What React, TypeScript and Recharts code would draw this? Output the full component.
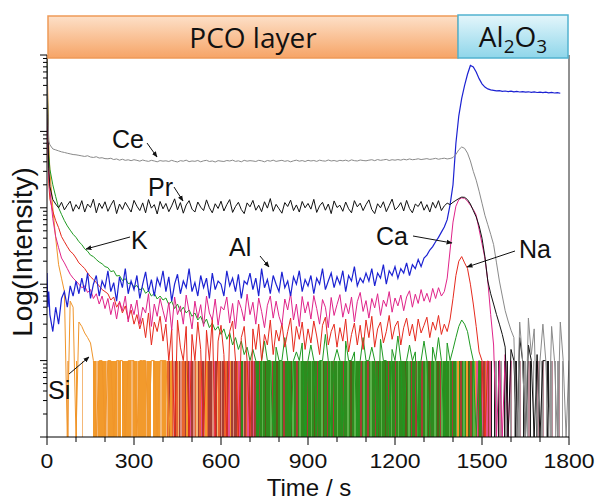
import React from 'react';
import { ComposedChart, Line, Area, XAxis, YAxis, ReferenceLine } from 'recharts';

// ---------- time grid ----------
const HEAD_T = [0, 3, 6];
const GRID_T = Array.from({ length: 180 }, (_, i) => 10 * (i + 1));
const TIME = [...HEAD_T, ...GRID_T];

// ---------- series values (counts), rows = 100 s ----------
const CE = [
  9000, 1600, 750,
  667, 590, 573, 556, 540, 530, 518, 508, 498, 494,
  486, 478, 470, 480, 462, 456, 466, 448, 452, 440,
  438, 445, 428, 436, 420, 432, 418, 425, 414, 426,
  418, 408, 422, 412, 405, 418, 410, 400, 415, 408,
  412, 404, 418, 406, 398, 414, 408, 420, 402, 410,
  406, 416, 400, 412, 418, 404, 410, 398, 414, 408,
  404, 416, 410, 420, 405, 412, 400, 418, 408, 414,
  410, 404, 418, 412, 400, 416, 408, 420, 405, 412,
  418, 406, 414, 400, 412, 420, 408, 415, 404, 418,
  410, 416, 405, 420, 412, 408, 422, 410, 416, 406,
  418, 412, 420, 408, 424, 414, 410, 422, 416, 412,
  420, 426, 414, 428, 418, 424, 430, 416, 426, 420,
  428, 420, 432, 424, 436, 426, 430, 438, 428, 434,
  440, 430, 436, 444, 432, 440, 446, 436, 442, 455,
  500, 575, 625, 600, 520, 410, 300, 230, 165, 115,
  80, 60, 45, 33, 19, 11, 7, 4.5, 3.3, 2.5,
  2, 0.1, 3.2, 1, 0.1, 3.6, 1.2, 2.6, 0.1, 1,
  3, 1, 0.1, 2.8, 1, 0.1, 3.2, 1, 0.1, 1,
];

const PR = [
  7000, 1200, 330,
  190, 128, 112, 100, 118, 94, 108, 122, 90, 110,
  96, 124, 88, 112, 101, 130, 86, 115, 98, 120,
  90, 108, 126, 84, 112, 95, 118, 102, 88, 125,
  105, 92, 116, 86, 128, 99, 110, 83, 121, 97,
  114, 89, 106, 131, 94, 117, 85, 109, 124, 96,
  88, 119, 102, 92, 127, 100, 86, 113, 98, 122,
  91, 110, 128, 87, 104, 118, 95, 84, 116, 103,
  125, 93, 108, 89, 120, 99, 132, 90, 111, 97,
  85, 117, 104, 126, 92, 109, 88, 121, 100, 114,
  96, 129, 87, 106, 118, 93, 112, 84, 123, 101,
  108, 90, 119, 97, 86, 124, 103, 115, 92, 110,
  127, 95, 84, 113, 100, 120, 89, 107, 130, 94,
  102, 117, 91, 125, 98, 86, 112, 104, 121, 93,
  110, 88, 118, 99, 124, 92, 106, 115, 110, 118,
  125, 132, 138, 137, 128, 112, 92, 76, 58, 40,
  23, 11, 7.5, 5.5, 4, 3, 2.2, 1.5, 0.1, 1.4,
  1, 0.1, 2, 1, 0.1, 1.6, 1, 0.1, 1.2, 0.1,
  1, 1,
];

const AL = [
  14, 5, 8,
  4, 2.4, 5, 3, 6.5, 8, 5, 9.5, 7, 11,
  7.5, 12, 8, 14, 6.5, 10, 13, 7, 11, 9,
  15, 8, 10.5, 6, 12.5, 9, 16, 7.5, 11, 8.5,
  13, 6.5, 10, 14.5, 8, 11.5, 7, 12, 9.5, 15,
  8, 12.5, 6, 10, 13.5, 7.5, 11, 9, 16, 8,
  10.5, 7, 13, 9, 12, 6.5, 14, 8.5, 11, 10,
  7, 15, 9.5, 12, 8, 13.5, 6.5, 11, 10, 14,
  8.5, 12, 7, 16, 9, 11.5, 7.5, 13, 10, 8,
  14.5, 9, 11, 7, 12.5, 10, 15, 8, 11.5, 9.5,
  13, 7.5, 12, 10, 16, 8.5, 11, 14, 9, 12.5,
  10, 15, 8, 13, 11, 17, 9.5, 12, 10.5, 14,
  11, 16, 9.5, 14, 12, 18, 10, 15, 13, 17,
  12, 16, 14, 19, 13, 18, 16, 21, 17, 22,
  24, 28, 31, 36, 41, 48, 56, 70, 110, 200,
  700, 1600, 2700, 4000, 5600, 7300, 7000, 6000, 4900, 4200,
  3800, 3600, 3500, 3450, 3400, 3420, 3350, 3380, 3320, 3360,
  3300, 3340, 3280, 3320, 3260, 3300, 3240, 3290, 3230, 3270,
  3220, 3260, 3200, 3240, 3180, 3220, 3160,
];

const CA = [
  5500, 900, 280,
  170, 72, 42, 30, 22, 19, 16, 13.5, 12, 11,
  10, 9, 9.5, 7.8, 8.5, 6.5, 7.5, 5.5, 7, 4.8,
  6.5, 4, 5.8, 3.5, 6, 4.5, 7, 3.2, 5.5, 4,
  6.2, 3, 5, 4.2, 7.5, 2.8, 5.5, 3.8, 6.5, 4.5,
  3.2, 5.8, 2.5, 6.8, 4, 5.2, 3, 7.2, 4.4, 2.6,
  6, 3.6, 5.4, 2.8, 7, 4.2, 3.4, 6.4, 2.9, 5.1,
  4.6, 6.8, 3.1, 5.6, 2.6, 6.2, 4.8, 3.3, 7.4, 4,
  5.8, 3, 6.6, 4.4, 2.7, 5.3, 7, 3.6, 6, 3.8,
  2.9, 6.4, 4.6, 7.6, 3.4, 5.5, 2.8, 6.9, 4.2, 5.9,
  3.5, 7.1, 4.8, 3, 6.3, 5, 2.7, 6.7, 3.9, 5.4,
  7.3, 3.7, 5.6, 4.1, 6.8, 3.2, 5.9, 7.8, 4.4, 6.1,
  3.6, 6.5, 4.9, 7.5, 3.9, 6.2, 5.1, 8, 4.3, 6.6,
  5.2, 7.2, 4.5, 6.8, 8.2, 5, 7.4, 5.6, 8.5, 6,
  7.6, 5.8, 8.8, 6.5, 9, 7, 8, 12, 28, 65,
  105, 128, 135, 133, 122, 108, 95, 80, 52, 34,
  22, 11, 4, 1.6, 0.1, 1, 0.1, 1.2, 0.1, 1,
];

const NA = [
  4200, 650, 210,
  130, 90, 68, 55, 42, 36, 31, 27, 25, 22,
  19, 17.5, 16, 14, 12.5, 11.5, 10.5, 9.5, 8.5, 8,
  7.5, 6.2, 6.8, 5, 5.8, 4.2, 5.2, 3.5, 4.6, 3,
  4, 2.6, 3.6, 2, 4.2, 1.6, 3.2, 2.4, 3.8, 1.8,
  3, 1, 2.6, 0.1, 3.4, 1.5, 1, 2.8, 0.1, 2.2,
  1, 3.2, 1.4, 0.1, 2.5, 1, 3.6, 0.1, 1.8, 2.9,
  1.2, 0.1, 2.4, 3.3, 1, 0.1, 2, 2.8, 1, 0.1,
  2.6, 1.4, 3, 1, 2.2, 1.6, 3.4, 1.2, 2.5, 1.8,
  3.1, 1.5, 2.4, 3.6, 1.3, 2.8, 1.9, 3.2, 1.4, 2.6,
  1.7, 3.3, 2.1, 1.2, 2.9, 3.7, 1.6, 2.4, 3, 1.5,
  2.7, 1.8, 3.5, 1.3, 2.2, 3.1, 1.6, 2.9, 1.4, 3.4,
  2, 3.8, 1.5, 2.6, 3.2, 1.7, 2.4, 3.9, 1.9, 2.8,
  3.3, 1.6, 2.7, 3.6, 2.1, 3, 1.8, 3.5, 2.3, 2.9,
  3.7, 2, 3.2, 2.5, 3.9, 2.2, 3, 2.4, 3.5, 6.5,
  13, 20, 23, 19, 16, 10, 5.5, 2.8, 1.3, 1,
  0.1, 1,
];

const K = [
  8000, 1500, 500,
  320, 200, 140, 100, 82, 68, 58, 51, 45, 41,
  36, 33, 29, 27, 24, 23, 21, 19.5, 18.5, 17,
  16.5, 14.6, 15, 12.8, 13, 11.2, 11.8, 10.2, 10.4, 9.2,
  9.6, 8.4, 9, 7.6, 8.2, 7, 7.6, 6.4, 7, 6.2,
  6.6, 5.4, 6, 4.8, 5.5, 4.4, 5, 4.2, 4.6, 3.8,
  4.2, 3.4, 3.8, 3, 3.5, 2.7, 3.1, 2.5, 2.8, 2.2,
  2.6, 1.9, 2.3, 1.6, 2, 1.4, 1.8, 1.2, 1.5, 1,
  1.4, 1, 0.1, 1, 1.8, 1, 1, 0.1, 1.5, 1,
  1, 2, 1, 0.1, 1, 1.3, 1, 1.7, 0.1, 1,
  1.6, 1, 0.1, 1, 1, 2.2, 1, 0.1, 1, 1.4,
  1, 0.1, 1.8, 1, 1, 1.3, 0.1, 1, 2, 1,
  1, 1.5, 1, 0.1, 1.9, 1, 1, 0.1, 1.4, 1,
  2.1, 1, 0.1, 1, 1.6, 1, 1.3, 0.1, 1, 1.8,
  1, 0.1, 1.5, 1, 2, 1, 0.1, 1.7, 1, 1.4,
  2, 2.8, 3.4, 3, 2.4, 1.5, 1, 0.1, 1, 0.1,
];

const SI = [
  10000, 3000, 700,
  300, 100, 40, 18, 12, 8, 0.1, 6, 5, 0.1,
  3.2, 2.8, 2.3, 2, 1.7, 1, 0.1, 1, 1, 0.1,
  1, 1, 0.1, 1, 1, 1, 0.1, 1, 1, 1,
  0.1, 1, 1, 1, 0.1, 1, 1, 0.1, 1, 1,
  1, 0.1, 1,
];

// ---------- floor (count ~1) stripes: dominant species per 5 s bin ----------
const FLOOR_BIN = 5;
const FLOOR = [
  'WWWWWWWWWWWWWWLWWWWW',
  'OWWWLWWWWWWWOOLOOOOO',
  'OLOOOOOOLOOWOOOOOOLO',
  'OOLOOOOOLOOOWOOOOOLO',
  'OOLRBORSBRLBSRRBOBPB',
  'BSRLBRPBSORBBBSPBLRB',
  'SBRRBPOBSBBRPBGSBRPB',
  'SBPBGGBGgGDGGGgBGGDG',
  'GgGBGGGGDgGGBGgGGGGB',
  'GGgGDGBGGgDGGBGgGBGG',
  'gGGGBGGgGDGGgGGGBGgG',
  'GBGgGGBGDGgGGDGBGgGG',
  'BGgGGGGDGgGBGGBgGGBG',
  'GgGDBGGgGDGBgGGGGgGB',
  'GGgOGBGgGODGBGgOPBGB',
  'PBRPBPKWKAWKMAWKAKWA',
  'MWAKWAMWKAWAMKWAWKMA',
  'WAMWAKWAMWAWAMWAWWWW',
].join('');
const FLOOR_CODES = ['O', 'L', 'R', 'B', 'S', 'P', 'G', 'g', 'D', 'K', 'A', 'M'];
const FLOOR_COLORS: Record<string, string> = {
  O: '#f29a2c', L: '#f4b878', R: '#e9652e', B: '#a63d33', S: '#de8f7e', P: '#e5528f',
  G: '#2e8b1e', g: '#5cb24c', D: '#5b5a18', K: '#1c1c1c', A: '#9b9b9b', M: '#b98d99',
};

// ---------- axes ----------
const X_TICKS = [0, 100, 200, 300, 400, 500, 600, 700, 800, 900, 1000, 1100, 1200, 1300, 1400, 1500, 1600, 1700, 1800];
const X_LABELED = [0, 300, 600, 900, 1200, 1500, 1800];
const DECADES = [0.1, 1, 10, 100, 1000];
const Y_TICKS = [...DECADES.flatMap((d) => [1, 2, 3, 4, 5, 6, 7, 8, 9].map((m) => +(d * m).toPrecision(3))), 10000];

const series = (vals: number[]) => vals.map((v, i) => ({ t: TIME[i], v }));
const floorData = (code: string) => {
  const pts = FLOOR.split('').map((ch, i) => ({ t: i * FLOOR_BIN, v: ch === code ? 1 : 0.1 }));
  pts.push({ t: 1800, v: 0.1 });
  return pts;
};

const LINES = [
  { name: 'Si', vals: SI, color: '#f0952a', w: 1 },
  { name: 'K', vals: K, color: '#1f9a22', w: 1 },
  { name: 'Na', vals: NA, color: '#e62a1e', w: 1 },
  { name: 'Ca', vals: CA, color: '#e0248a', w: 1 },
  { name: 'Al', vals: AL, color: '#1c22d2', w: 1.2 },
  { name: 'Pr', vals: PR, color: '#111111', w: 1 },
  { name: 'Ce', vals: CE, color: '#8a8a8a', w: 1 },
];

const XTick = (props: any) => {
  const { x, y, payload } = props;
  const v = payload.value;
  const major = X_LABELED.includes(v);
  return (
    <g>
      <line x1={x} y1={y} x2={x} y2={y + (major ? 8 : 5)} stroke="#000" strokeWidth={1} />
      {major && (
        <text
          transform={`translate(${x},${y + 31}) scale(1.15,1)`}
          textAnchor="middle"
          fontFamily="'Liberation Sans', Arial, sans-serif"
          fontSize={20}
          fill="#111"
        >
          {v}
        </text>
      )}
    </g>
  );
};

const YTick = (props: any) => {
  const { x, y, payload } = props;
  const lg = Math.log10(payload.value);
  const major = Math.abs(lg - Math.round(lg)) < 1e-6;
  return <line x1={x} y1={y} x2={x - (major ? 7 : 4)} y2={y} stroke="#000" strokeWidth={1} />;
};

const ANNOTS = [
  { text: 'Ce', x: 112, y: 148, ax1: 147, ay1: 143, ax2: 157, ay2: 157 },
  { text: 'Pr', x: 148, y: 196, ax1: 174, ay1: 187, ax2: 183, ay2: 201 },
  { text: 'K', x: 131, y: 249, ax1: 130, ay1: 237, ax2: 86, ay2: 249 },
  { text: 'Al', x: 229, y: 256, ax1: 260, ay1: 256, ax2: 269, ay2: 267 },
  { text: 'Ca', x: 376, y: 245, ax1: 413, ay1: 236, ax2: 452, ay2: 243 },
  { text: 'Na', x: 519, y: 258, ax1: 515, ay1: 251, ax2: 467, ay2: 267 },
  { text: 'Si', x: 48, y: 399, ax1: 69, ay1: 374, ax2: 89, ay2: 357 },
];

export default function App() {
  return (
    <div style={{ position: 'absolute', left: 0, top: 0, width: 599, height: 504, background: '#fff' }}>
      <style>{`.recharts-area-area { shape-rendering: crispEdges; }`}</style>
      <ComposedChart width={599} height={504} margin={{ top: 55, right: 30, bottom: 0, left: 0 }}>
        <XAxis
          dataKey="t"
          type="number"
          domain={[0, 1800]}
          ticks={X_TICKS}
          interval={0}
          height={67}
          tickSize={0}
          tickMargin={0}
          tickLine={false}
          axisLine={{ stroke: '#000', strokeWidth: 1 }}
          tick={<XTick />}
          allowDataOverflow
        />
        <YAxis
          type="number"
          scale="log"
          domain={[0.1, 10000]}
          ticks={Y_TICKS}
          interval={0}
          width={47}
          tickSize={0}
          tickMargin={0}
          tickLine={false}
          axisLine={{ stroke: '#000', strokeWidth: 1 }}
          tick={<YTick />}
          allowDataOverflow
        />
        {FLOOR_CODES.map((c) => (
          <Area
            key={c}
            data={floorData(c)}
            dataKey="v"
            type="stepAfter"
            stroke="none"
            fill={FLOOR_COLORS[c]}
            fillOpacity={1}
            baseValue={0.1}
            dot={false}
            activeDot={false}
            isAnimationActive={false}
          />
        ))}
        {LINES.map((s) => (
          <Line
            key={s.name}
            data={series(s.vals)}
            dataKey="v"
            type="linear"
            stroke={s.color}
            strokeWidth={s.w}
            dot={false}
            activeDot={false}
            isAnimationActive={false}
          />
        ))}
        <ReferenceLine x={1800} stroke="#222" strokeWidth={1} />
      </ComposedChart>
      <svg width={599} height={504} style={{ position: 'absolute', left: 0, top: 0, pointerEvents: 'none' }}>
        <defs>
          <linearGradient id="pcoGrad" x1="0" y1="0" x2="0" y2="1">
            <stop offset="0%" stopColor="#fde0c8" />
            <stop offset="100%" stopColor="#f6a466" />
          </linearGradient>
          <linearGradient id="alGrad" x1="0" y1="0" x2="0" y2="1">
            <stop offset="0%" stopColor="#e4f6fb" />
            <stop offset="100%" stopColor="#8fd6ea" />
          </linearGradient>
          <marker id="arrow" viewBox="0 0 10 10" refX="9" refY="5" markerWidth="6" markerHeight="6" orient="auto">
            <path d="M0,1 L10,5 L0,9 z" fill="#111" />
          </marker>
        </defs>
        <rect x={48} y={16} width={410} height={42} fill="url(#pcoGrad)" stroke="#ee9a58" strokeWidth={1.5} />
        <rect x={458} y={15} width={110} height={43} fill="url(#alGrad)" stroke="#52b2cf" strokeWidth={1.5} />
        <text x={253} y={48} textAnchor="middle" fontFamily="'Open Sans', sans-serif" fontSize={28} fill="#111">
          PCO layer
        </text>
        <text x={513} y={47} textAnchor="middle" fontFamily="'Open Sans', sans-serif" fontSize={28} fill="#111">
          Al<tspan fontSize={19} dy={6}>2</tspan>
          <tspan dy={-6}>O</tspan>
          <tspan fontSize={19} dy={6}>3</tspan>
        </text>
        <text
          transform="translate(32,252) rotate(-90)"
          textAnchor="middle"
          fontFamily="'Liberation Sans', Arial, sans-serif"
          fontSize={28}
          fill="#111"
        >
          Log(Intensity)
        </text>
        <text x={309} y={496} textAnchor="middle" fontFamily="'Liberation Sans', Arial, sans-serif" fontSize={24} fill="#111">
          Time / s
        </text>
        {ANNOTS.map((a) => (
          <g key={a.text}>
            <line x1={a.ax1} y1={a.ay1} x2={a.ax2} y2={a.ay2} stroke="#111" strokeWidth={1} markerEnd="url(#arrow)" />
            <text x={a.x} y={a.y} fontFamily="'Liberation Sans', Arial, sans-serif" fontSize={25} fill="#111">
              {a.text}
            </text>
          </g>
        ))}
      </svg>
    </div>
  );
}
